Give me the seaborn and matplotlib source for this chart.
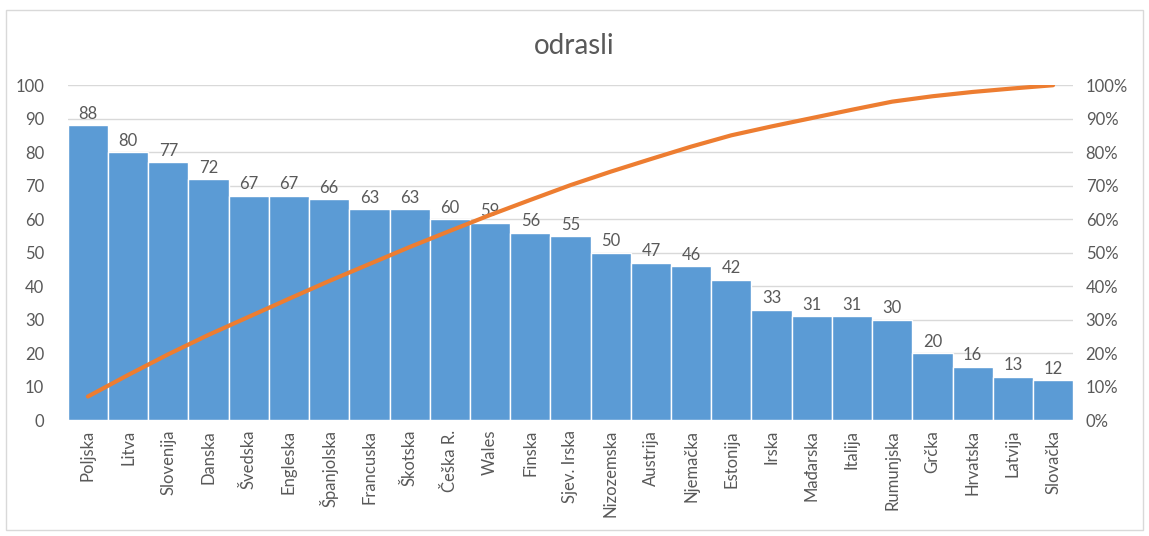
import numpy as np
import pandas as pd
import matplotlib
matplotlib.use("Agg")
import matplotlib.pyplot as plt
import seaborn as sns
from matplotlib.patches import Rectangle
from matplotlib.ticker import PercentFormatter

# data
countries = ["Poljska", "Litva", "Slovenija", "Danska", "Švedska", "Engleska",
             "Španjolska", "Francuska", "Škotska", "Češka R.", "Wales", "Finska",
             "Sjev. Irska", "Nizozemska", "Austrija", "Njemačka", "Estonija",
             "Irska", "Mađarska", "Italija", "Rumunjska", "Grčka", "Hrvatska",
             "Latvija", "Slovačka"]
values = [88, 80, 77, 72, 67, 67, 66, 63, 63, 60, 59, 56, 55, 50, 47, 46, 42,
          33, 31, 31, 30, 20, 16, 13, 12]

df = pd.DataFrame({"country": countries, "value": values})
# pareto: cumulative share of the total
df["cum_pct"] = df["value"].cumsum() / df["value"].sum() * 100
df["pos"] = np.arange(len(df))

bar_color = "#5B9BD5"
line_color = "#ED7D31"
text_color = "#595959"
fs = 12

sns.set_theme(style="white")
plt.rcParams["font.family"] = ["Lato", "DejaVu Sans"]

fig = plt.figure(figsize=(11.49, 5.36), dpi=100)
ax = fig.add_axes([0.059, 0.216, 0.875, 0.625])

sns.barplot(data=df, x="country", y="value", color=bar_color, width=1.0,
            edgecolor="white", linewidth=1, saturation=1, ax=ax)
ax.set_ylim(0, 100)
ax.set_yticks(range(0, 101, 10))
ax.yaxis.grid(True, color="#D9D9D9", linewidth=1)
ax.set_axisbelow(True)
ax.set_xlim(-0.5, len(df) - 0.5)
ax.set_xlabel("")
ax.set_ylabel("")
ax.tick_params(axis="x", rotation=90, labelsize=fs, colors=text_color, length=0, pad=7)
ax.tick_params(axis="y", labelsize=fs, colors=text_color, length=0, pad=17)
for s in ax.spines.values():
    s.set_visible(False)

for p, v in zip(df["pos"], df["value"]):
    ax.text(p, v + 1.0, str(v), ha="center", va="bottom", fontsize=fs, color=text_color)

ax2 = ax.twinx()
sns.lineplot(data=df, x="pos", y="cum_pct", color=line_color, linewidth=3, ax=ax2)
ax2.set_ylim(0, 100)
ax2.set_yticks(range(0, 101, 10))
ax2.yaxis.set_major_formatter(PercentFormatter(decimals=0))
ax2.tick_params(axis="y", labelsize=fs, colors=text_color, length=0, pad=9)
ax2.set_ylabel("")
ax2.set_xlim(-0.5, len(df) - 0.5)
for s in ax2.spines.values():
    s.set_visible(False)

fig.text(0.5, 0.915, "odrasli", ha="center", va="center", fontsize=20, color=text_color)
fig.patches.append(Rectangle((0.005, 0.012), 0.99, 0.97, transform=fig.transFigure,
                             fill=False, edgecolor="#D9D9D9", linewidth=1))

fig.savefig("out.png", dpi=100)
